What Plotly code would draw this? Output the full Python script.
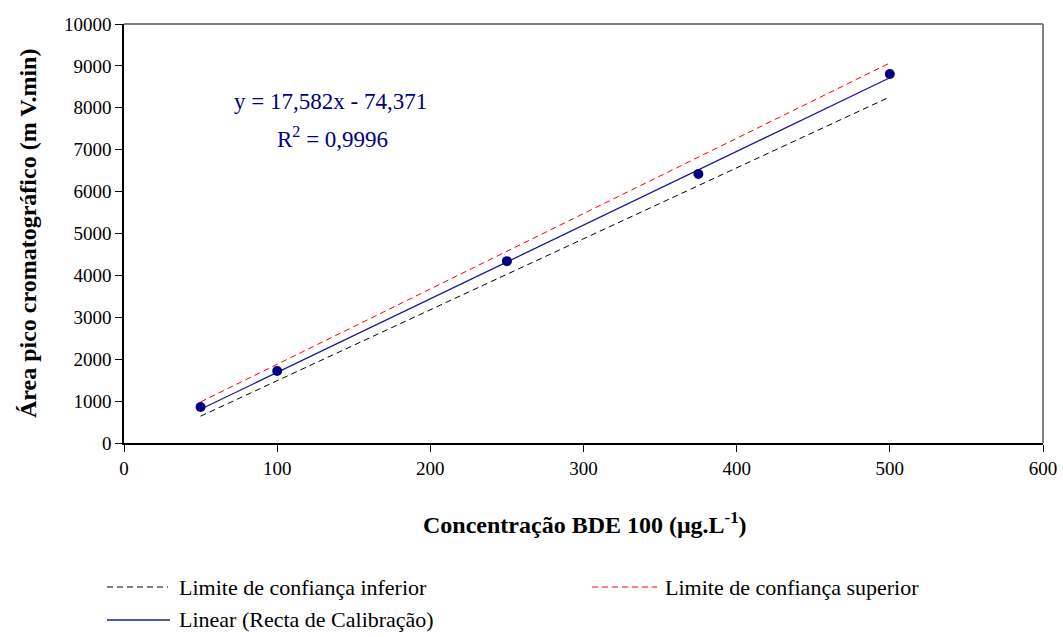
import plotly.graph_objects as go

# Data
conc = [50, 100, 250, 375, 500]
area = [859, 1718, 4340, 6420, 8807]

slope = 17.582
intercept = -74.371
fit_x = [50, 500]
fit_y = [slope * x + intercept for x in fit_x]

lower_x = [50, 500]
lower_y = [640, 8260]
upper_x = [50, 500]
upper_y = [980, 9070]

x_ticks = [0, 100, 200, 300, 400, 500, 600]
y_ticks = [0, 1000, 2000, 3000, 4000, 5000, 6000, 7000, 8000, 9000, 10000]

legend_labels = ["Limite de confiança inferior",
                 "Limite de confiança superior",
                 "Linear (Recta de Calibração)"]

FONT = "Liberation Serif"
NAVY = "#000080"
BLUE = "#1a1a99"
DASH = "6px,4px"

fig = go.Figure()

fig.add_trace(go.Scatter(
    x=lower_x, y=lower_y, mode="lines",
    line=dict(color="black", width=1, dash=DASH),
    name=legend_labels[0], showlegend=False))
fig.add_trace(go.Scatter(
    x=upper_x, y=upper_y, mode="lines",
    line=dict(color="#ff0000", width=1, dash=DASH),
    name=legend_labels[1], showlegend=False))
fig.add_trace(go.Scatter(
    x=fit_x, y=fit_y, mode="lines",
    line=dict(color=BLUE, width=1.3),
    name=legend_labels[2], showlegend=False))
fig.add_trace(go.Scatter(
    x=conc, y=area, mode="markers",
    marker=dict(color=NAVY, size=10),
    name="Recta de Calibração", showlegend=False))

fig.update_layout(
    width=1063, height=637,
    margin=dict(l=124, r=20, t=24, b=194),
    paper_bgcolor="white", plot_bgcolor="white",
    font=dict(family=FONT, size=19, color="black"),
    showlegend=False,
    xaxis=dict(
        range=[0, 600], tickvals=x_ticks, ticktext=[str(v) for v in x_ticks],
        showgrid=False, zeroline=False, automargin=False,
        showline=True, linecolor="black", linewidth=1.5,
        ticks="outside", ticklen=7, tickcolor="black", tickwidth=1,
        tickfont=dict(family=FONT, size=19),
    ),
    yaxis=dict(
        range=[0, 10000], tickvals=y_ticks, ticktext=[str(v) for v in y_ticks],
        showgrid=False, zeroline=False, automargin=False,
        showline=True, linecolor="black", linewidth=1.5,
        ticks="outside", ticklen=7, tickcolor="black", tickwidth=1,
        tickfont=dict(family=FONT, size=19),
    ),
)

# axis titles
fig.add_annotation(x=0.5016, y=-0.1909, xref="paper", yref="paper",
                   text="<b>Concentração BDE 100 (μg.L<sup>-1</sup>)</b>",
                   showarrow=False, xanchor="center", yanchor="middle",
                   font=dict(family=FONT, size=24, color="black"))
fig.add_annotation(x=-0.1045, y=0.501, xref="paper", yref="paper",
                   text="<b>Área pico cromatográfico (m V.min)</b>",
                   textangle=-90, showarrow=False, xanchor="center", yanchor="middle",
                   font=dict(family=FONT, size=24, color="black"))

# gray top and right frame
fig.add_shape(type="line", xref="paper", yref="paper", x0=0, x1=1, y0=1, y1=1,
              line=dict(color="#808080", width=2))
fig.add_shape(type="line", xref="paper", yref="paper", x0=1, x1=1, y0=0, y1=1,
              line=dict(color="#808080", width=2))

# equation
fig.add_annotation(x=135, y=8140, xref="x", yref="y",
                   text="y = 17,582x - 74,371", showarrow=False,
                   xanchor="center", yanchor="middle",
                   font=dict(family=FONT, size=23, color=NAVY))
fig.add_annotation(x=136, y=7300, xref="x", yref="y",
                   text="R<sup>2</sup> = 0,9996", showarrow=False,
                   xanchor="center", yanchor="middle",
                   font=dict(family=FONT, size=23, color=NAVY))

# manual legend (below plot)
legend_items = [
    (legend_labels[0], "black", DASH, -0.0185, 0.0479, 0.0577, -0.3437),
    (legend_labels[1], "#ff0000", DASH, 0.5092, 0.5800, 0.5865, -0.3437),
    (legend_labels[2], BLUE, "solid", -0.0185, 0.0500, 0.0577, -0.4224),
]
for label, color, dash, lx0, lx1, tx, ly in legend_items:
    fig.add_shape(type="line", xref="paper", yref="paper",
                  x0=lx0, x1=lx1, y0=ly, y1=ly,
                  line=dict(color=color, width=1.3 if dash == "solid" else 1, dash=dash))
    fig.add_annotation(x=tx, y=ly, xref="paper", yref="paper", text=label,
                       showarrow=False, xanchor="left", yanchor="middle",
                       font=dict(family=FONT, size=22, color="black"))

fig.write_html("out.html")
